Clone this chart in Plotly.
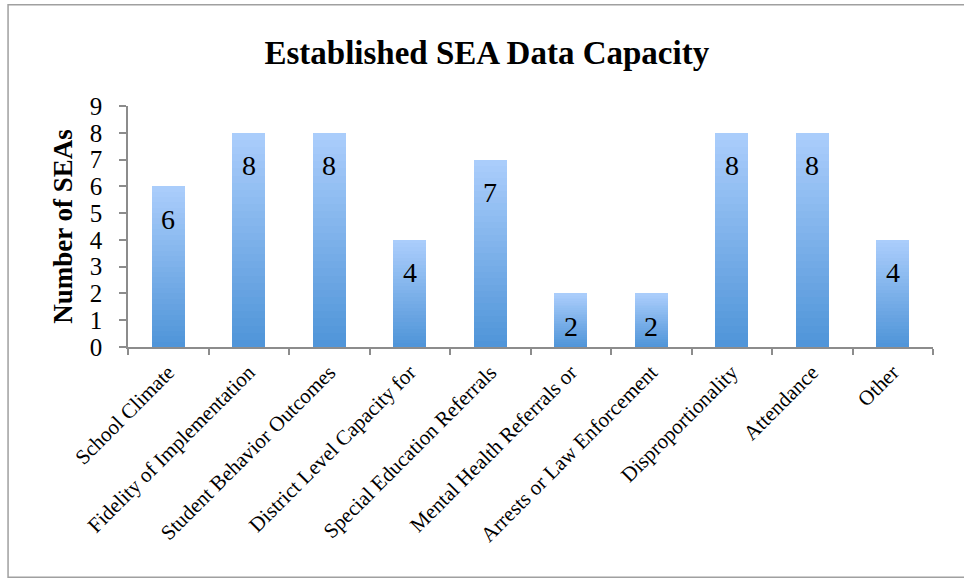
import plotly.graph_objects as go

categories = ["School Climate", "Fidelity of Implementation", "Student Behavior Outcomes",
              "District Level Capacity for", "Special Education Referrals",
              "Mental Health Referrals or", "Arrests or Law Enforcement",
              "Disproportionality", "Attendance", "Other"]
values = [6, 8, 8, 4, 7, 2, 2, 8, 8, 4]
y_ticks = list(range(0, 10))

title_text = "Established SEA Data Capacity"
y_title = "Number of SEAs"

FONT = "Liberation Serif"
dark = (78, 148, 216)
light = (172, 206, 252)
N = 30

fig = go.Figure()
for k in range(N):
    t = (k + 0.5) / N
    c = tuple(round(dark[i] + (light[i] - dark[i]) * t) for i in range(3))
    fig.add_trace(go.Bar(
        x=categories, y=[v / N for v in values],
        marker=dict(color="rgb(%d,%d,%d)" % c, line=dict(width=0)),
        showlegend=False, hoverinfo="skip"))

for cat, v in zip(categories, values):
    fig.add_annotation(x=cat, y=v, text=str(v), showarrow=False,
                       yanchor="middle", yshift=-33,
                       font=dict(family=FONT, size=28, color="black"))

fig.add_shape(type="rect", xref="paper", yref="paper",
              x0=-0.149, x1=1.09, y0=-0.955, y1=1.42,
              line=dict(color="#a0a0a0", width=1.5), fillcolor="rgba(0,0,0,0)")

fig.update_layout(
    width=964, height=581,
    barmode="stack", bargap=0.59,
    paper_bgcolor="white", plot_bgcolor="white",
    margin=dict(l=128, r=31, t=106, b=234),
    title=dict(text="<b>%s</b>" % title_text, x=0.505, xref="container",
               xanchor="center", y=0.91, yanchor="middle",
               font=dict(family=FONT, size=33, color="black")),
    font=dict(family=FONT, color="black"),
)
fig.update_xaxes(showline=True, linecolor="#8c8c8c", linewidth=1.5,
                 ticks="outside", tickson="boundaries", ticklen=6,
                 tickcolor="#8c8c8c", tickwidth=1.5, tickangle=-45,
                 ticklabelstandoff=3,
                 tickfont=dict(family=FONT, size=21, color="black"),
                 showgrid=False)
fig.update_yaxes(range=[0, 9], tickvals=y_ticks, showline=True,
                 linecolor="#8c8c8c", linewidth=1.5, ticks="outside",
                 ticklen=7, tickcolor="#8c8c8c", tickwidth=1.5,
                 ticklabelstandoff=12,
                 tickfont=dict(family=FONT, size=25, color="black"),
                 showgrid=False, zeroline=False,
                 title=dict(text="<b>%s</b>" % y_title, standoff=9,
                            font=dict(family=FONT, size=27, color="black")))

fig.write_html("out.html", config={"displayModeBar": False},
               post_script="document.body.style.margin='0';")
